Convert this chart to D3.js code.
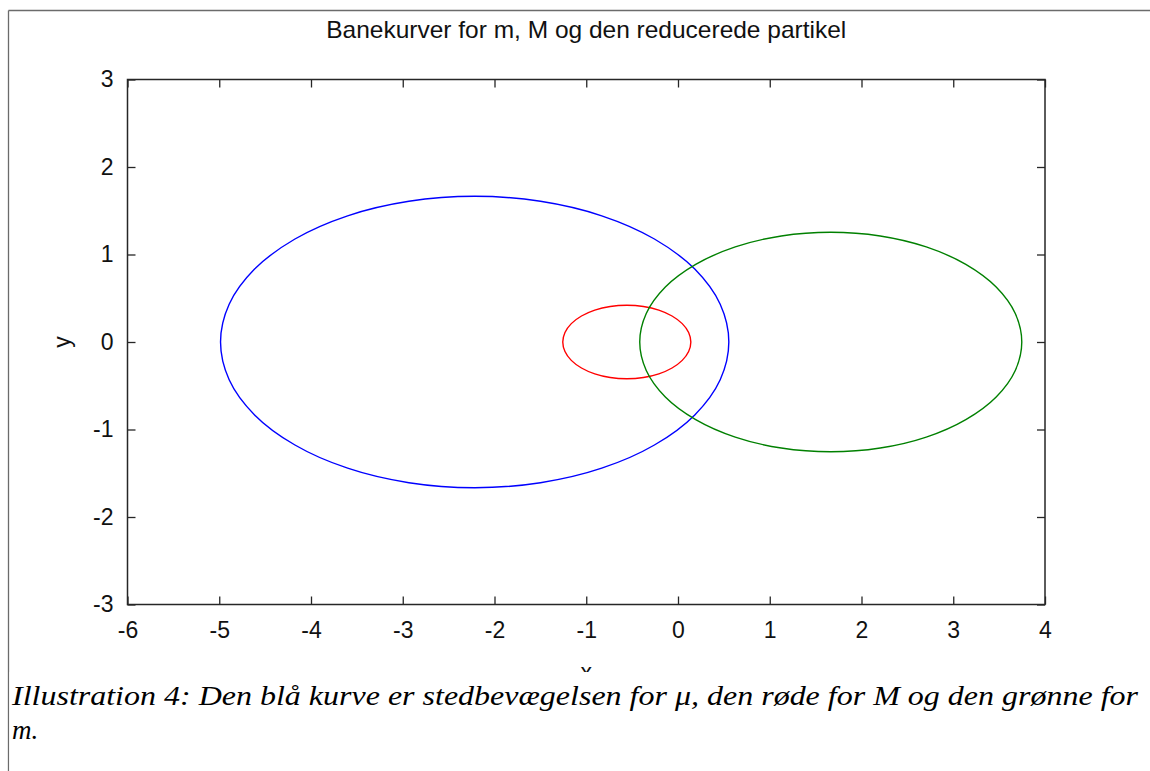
<!DOCTYPE html>
<html>
<head>
<meta charset="utf-8">
<script src="https://cdn.jsdelivr.net/npm/d3@7"></script>
<style>
  html, body { margin: 0; padding: 0; background: #fff; }
  svg { display: block; }
  .caption text { font-family: "Liberation Serif", "Times New Roman", Times, "DejaVu Serif", serif; font-style: italic; }
</style>
</head>
<body>
<svg id="chart" width="1150" height="771"></svg>
<script>
// ---- data ----
const titleText = "Banekurver for m, M og den reducerede partikel";
const xLabelText = "x";
const yLabelText = "y";
const captionLines = [
  "Illustration 4: Den blå kurve er stedbevægelsen for μ, den røde for M og den grønne for",
  "m."
];
const xTicks = [-6, -5, -4, -3, -2, -1, 0, 1, 2, 3, 4];
const yTicks = [-3, -2, -1, 0, 1, 2, 3];

// blue: reduced particle (μ)
const bluePath = [
  [0.554, 0], [0.460, 0.431], [0.183, 0.833], [-0.257, 1.177], [-0.831, 1.442], [-1.499, 1.608],
  [-2.216, 1.665], [-2.933, 1.608], [-3.601, 1.442], [-4.175, 1.177], [-4.615, 0.833], [-4.892, 0.431],
  [-4.986, 0], [-4.892, -0.431], [-4.615, -0.833], [-4.175, -1.177], [-3.601, -1.442], [-2.933, -1.608],
  [-2.216, -1.665], [-1.499, -1.608], [-0.831, -1.442], [-0.257, -1.177], [0.183, -0.833], [0.460, -0.431]
];
// red: M
const redPath = [
  [0.140, 0], [0.116, 0.109], [0.046, 0.210], [-0.065, 0.297], [-0.209, 0.364], [-0.377, 0.406],
  [-0.558, 0.420], [-0.739, 0.406], [-0.907, 0.364], [-1.052, 0.297], [-1.163, 0.210], [-1.232, 0.109],
  [-1.256, 0], [-1.232, -0.109], [-1.163, -0.210], [-1.052, -0.297], [-0.907, -0.364], [-0.739, -0.406],
  [-0.558, -0.420], [-0.377, -0.406], [-0.209, -0.364], [-0.065, -0.297], [0.046, -0.210], [0.116, -0.109]
];
// green: m
const greenPath = [
  [3.747, 0], [3.676, 0.325], [3.468, 0.628], [3.137, 0.887], [2.706, 1.087], [2.204, 1.212],
  [1.665, 1.255], [1.126, 1.212], [0.624, 1.087], [0.193, 0.887], [-0.138, 0.628], [-0.346, 0.325],
  [-0.417, 0], [-0.346, -0.325], [-0.138, -0.628], [0.193, -0.887], [0.624, -1.087], [1.126, -1.212],
  [1.665, -1.255], [2.204, -1.212], [2.706, -1.087], [3.137, -0.887], [3.468, -0.628], [3.676, -0.325]
];
const seriesNames = ["mu", "M", "m"];
const seriesColors = ["#0000ff", "#ff0000", "#008000"];

// ---- layout ----
const svg = d3.select("#chart");
const plot = { left: 127.5, right: 1045, top: 79.5, bottom: 604.5 };
const x = d3.scaleLinear().domain([-6, 4]).range([plot.left, plot.right]);
const y = d3.scaleLinear().domain([-3, 3]).range([plot.bottom, plot.top]);
const axisFont = "'Liberation Sans', Arial, sans-serif";

// page border (top + left)
svg.append("line").attr("x1", 8.5).attr("y1", 10.5).attr("x2", 1150).attr("y2", 10.5)
  .attr("stroke", "#6b6b6b").attr("stroke-width", 1.3);
svg.append("line").attr("x1", 8.5).attr("y1", 10.5).attr("x2", 8.5).attr("y2", 771)
  .attr("stroke", "#6b6b6b").attr("stroke-width", 1.3);

// title
svg.append("text").attr("x", (plot.left + plot.right) / 2).attr("y", 38)
  .attr("text-anchor", "middle").attr("font-family", axisFont).attr("font-size", 24)
  .attr("textLength", 520).attr("lengthAdjust", "spacingAndGlyphs")
  .attr("fill", "#111").text(titleText);

// curves
const line = d3.line().x(d => x(d[0])).y(d => y(d[1])).curve(d3.curveCatmullRomClosed);
const paths = [bluePath, redPath, greenPath];
paths.forEach((p, i) => {
  svg.append("path").attr("d", line(p)).attr("fill", "none")
    .attr("stroke", seriesColors[i]).attr("stroke-width", 1.4)
    .attr("class", "series-" + seriesNames[i]);
});

// axes (ticks inward)
const fmt = d => String(d);
const tickLen = 8;
const gB = svg.append("g").attr("transform", `translate(0,${plot.bottom})`)
  .call(d3.axisBottom(x).tickValues(xTicks).tickFormat(fmt).tickSizeInner(-tickLen).tickSizeOuter(0).tickPadding(17));
const gL = svg.append("g").attr("transform", `translate(${plot.left},0)`)
  .call(d3.axisLeft(y).tickValues(yTicks).tickFormat(fmt).tickSizeInner(-tickLen).tickSizeOuter(0).tickPadding(14));
const gT = svg.append("g").attr("transform", `translate(0,${plot.top})`)
  .call(d3.axisTop(x).tickValues(xTicks).tickFormat("").tickSizeInner(-tickLen).tickSizeOuter(0));
const gR = svg.append("g").attr("transform", `translate(${plot.right},0)`)
  .call(d3.axisRight(y).tickValues(yTicks).tickFormat("").tickSizeInner(-tickLen).tickSizeOuter(0));
[gB, gL, gT, gR].forEach(g => {
  g.select(".domain").remove();
  g.selectAll(".tick line").attr("stroke", "#262626").attr("stroke-width", 1.3);
  g.selectAll(".tick text").attr("font-family", axisFont).attr("font-size", 23).attr("fill", "#111");
});

// frame
svg.append("rect").attr("x", plot.left).attr("y", plot.top)
  .attr("width", plot.right - plot.left).attr("height", plot.bottom - plot.top)
  .attr("fill", "none").attr("stroke", "#262626").attr("stroke-width", 1.5);

// axis labels
svg.append("text").attr("transform", `translate(70,342) rotate(-90)`)
  .attr("text-anchor", "middle").attr("font-family", axisFont).attr("font-size", 23)
  .attr("fill", "#111").text(yLabelText);
svg.append("text").attr("x", (plot.left + plot.right) / 2).attr("y", 680)
  .attr("text-anchor", "middle").attr("font-family", axisFont).attr("font-size", 23)
  .attr("fill", "#111").text(xLabelText);

// caption area (covers bottom of the figure)
svg.append("rect").attr("x", 9.5).attr("y", 672).attr("width", 1140.5).attr("height", 99).attr("fill", "#fff");
const cap = svg.append("g").attr("class", "caption").attr("font-size", 27).attr("fill", "#000");
cap.append("text").attr("x", 12).attr("y", 705).attr("textLength", 1126).attr("lengthAdjust", "spacingAndGlyphs").text(captionLines[0]);
cap.append("text").attr("x", 12).attr("y", 739).text(captionLines[1]);
</script>
</body>
</html>
